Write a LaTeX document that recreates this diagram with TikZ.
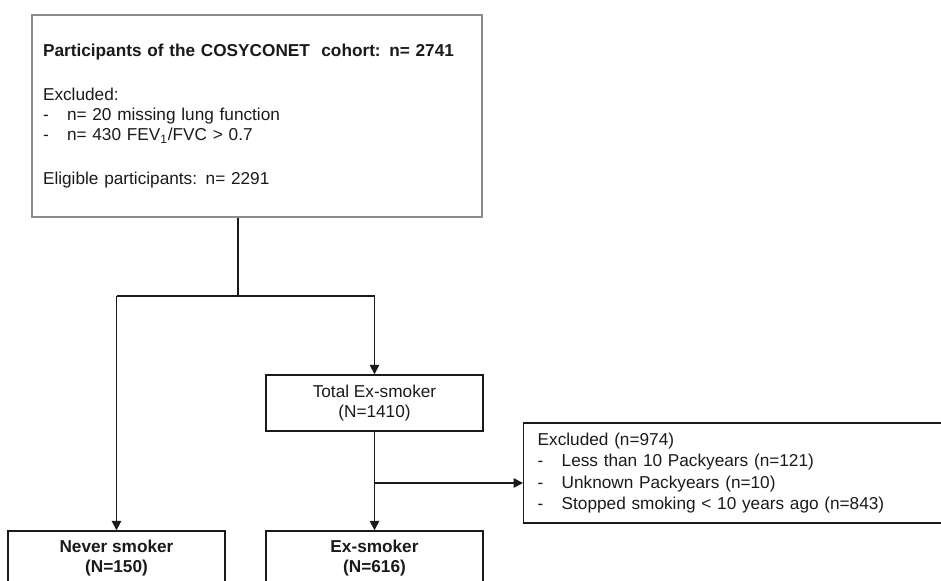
\documentclass[tikz,border=0pt]{standalone}
\usepackage{fontspec}
\setmainfont{Liberation Sans}
\usetikzlibrary{arrows.meta}
\definecolor{ink}{HTML}{1A1A1A}
\definecolor{frame}{HTML}{8C8C8C}
\tikzset{
  conn/.style={draw=ink, line width=0.95pt},
  arr/.style={conn, -{Triangle[length=5.4pt,width=5.4pt]}},
  topbox/.style={draw=frame, line width=0.8pt, text=ink, inner xsep=0.22cm, inner ysep=0pt,
    text width=8.56cm, minimum height=4.04cm, align=left, font=\fontsize{9.8}{11.6}\selectfont},
  midbox/.style={draw=ink, line width=0.8pt, text=ink, inner sep=0pt, minimum width=4.34cm,
    minimum height=1.12cm, align=center, font=\fontsize{9.8}{11.4}\selectfont},
  endbox/.style={midbox, minimum height=1.1cm, font=\bfseries\fontsize{9.8}{11.4}\selectfont},
  exclbox/.style={draw=ink, line width=0.8pt, text=ink, inner xsep=0.28cm, inner ysep=0pt,
    text width=8.4cm, minimum height=2cm, align=left, font=\fontsize{9.8}{12.3}\selectfont}
}
\newcommand{\itm}{\makebox[0.48cm][l]{-}}

\begin{document}
\begin{tikzpicture}[x=0.02cm, y=-0.02cm]
  \useasboundingbox (0,0) rectangle (941,581);
  \clip (0,0) rectangle (941,581);

  \node[topbox] (cohort) at (257,116) {%
    \textbf{Participants of the COSYCONET\ \ cohort: n= 2741}\\[13pt]
    Excluded:\\
    \itm n= 20 missing lung function\\
    \itm n= 430 FEV\textsubscript{1}/FVC > 0.7\\[13pt]
    Eligible participants: n= 2291};

  \node[midbox] (total) at (374.5,403) {Total Ex-smoker\\(N=1410)};
  \node[endbox] (never) at (116.5,558.5) {Never smoker\\(N=150)};
  \node[endbox] (exsm) at (374.5,558.5) {Ex-smoker\\(N=616)};
  \node[exclbox, anchor=west] (excl) at (523,473) {%
    Excluded (n=974)\\
    \itm Less than 10 Packyears (n=121)\\
    \itm Unknown Packyears (n=10)\\
    \itm Stopped smoking < 10 years ago (n=843)};

  \coordinate (fork) at (238,296);
  \coordinate (split) at (374.5,483);

  % connectors
  \draw[conn] (fork |- cohort.south) -- (fork);
  \draw[conn] (never.north |- fork) -- (total.north |- fork);
  \draw[arr] (never.north |- fork) -- (never.north);
  \draw[arr] (total.north |- fork) -- (total.north);
  \draw[arr] (total) -- (exsm);
  \draw[arr] (split) -- (split -| excl.west);
\end{tikzpicture}
\end{document}
